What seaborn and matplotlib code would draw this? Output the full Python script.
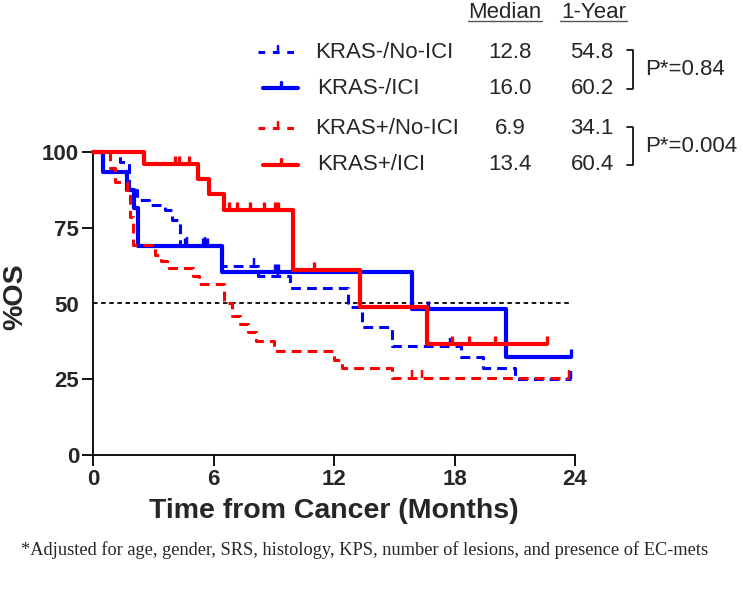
import matplotlib
matplotlib.use("Agg")
import matplotlib.pyplot as plt
from matplotlib.lines import Line2D
import numpy as np
import pandas as pd
import seaborn as sns

# Kaplan-Meier steps (months, % OS)
GROUPS = ["KRAS-/No-ICI", "KRAS-/ICI", "KRAS+/No-ICI", "KRAS+/ICI"]

NEG_NOICI_T = [0, 1.35, 1.8, 2.2, 2.8, 3.6, 3.95, 4.35, 6.4, 8.2, 9.8, 12.7, 13.4, 14.9, 18.3, 19.4, 21.0]
NEG_NOICI_S = [100, 96.8, 87.5, 84.2, 82.5, 80.7, 77.6, 69.2, 62.5, 59.0, 55.0, 49.0, 42.3, 36.0, 32.3, 28.8, 25.2]
NEG_NOICI_END = 23.8
NEG_NOICI_CENS = [4.7, 5.6, 8.0, 9.2, 17.8, 23.8]

NEG_ICI_T = [0, 0.5, 1.7, 2.05, 2.25, 6.4, 15.9, 20.55]
NEG_ICI_S = [100, 93.5, 87.5, 81.6, 68.9, 60.3, 48.2, 32.3]
NEG_ICI_END = 23.8
NEG_ICI_CENS = [4.6, 5.5, 5.7, 9.05, 9.2, 16.7, 23.8]

POS_NOICI_T = [0, 0.85, 1.1, 1.7, 1.85, 2.0, 3.1, 3.4, 3.7, 5.0, 5.3, 6.5, 6.9, 7.3, 7.7, 8.1, 9.0, 12.0, 12.4, 14.9]
POS_NOICI_S = [100, 94.7, 90.0, 86.0, 78.7, 69.4, 66.1, 63.9, 61.7, 59.0, 56.3, 50.0, 46.0, 43.1, 40.5, 37.5, 34.3, 31.5, 28.6, 25.3]
POS_NOICI_END = 23.7
POS_NOICI_CENS = [15.9, 16.4, 23.7]

POS_ICI_T = [0, 2.55, 5.25, 5.8, 6.5, 9.97, 13.3, 16.65]
POS_ICI_S = [100, 96, 91, 86.2, 80.9, 60.9, 48.7, 36.5]
POS_ICI_END = 22.6
POS_ICI_CENS = [4.1, 4.3, 4.8, 6.75, 7.15, 7.8, 8.5, 9.05, 9.2, 11.0, 17.9, 18.7, 20.0, 22.6]

MEDIANS = ["12.8", "16.0", "6.9", "13.4"]
ONE_YEAR = ["54.8", "60.2", "34.1", "60.4"]
P_VALUES = ["P*=0.84", "P*=0.004"]

X_TICKS = [0, 6, 12, 18, 24]
Y_TICKS = [0, 25, 50, 75, 100]

BLUE = "#0000ff"
RED = "#ff0000"
COLORS = [BLUE, BLUE, RED, RED]
DASHED = [True, False, True, False]

SERIES = [
    (NEG_NOICI_T, NEG_NOICI_S, NEG_NOICI_END, NEG_NOICI_CENS),
    (NEG_ICI_T, NEG_ICI_S, NEG_ICI_END, NEG_ICI_CENS),
    (POS_NOICI_T, POS_NOICI_S, POS_NOICI_END, POS_NOICI_CENS),
    (POS_ICI_T, POS_ICI_S, POS_ICI_END, POS_ICI_CENS),
]

W, H = 743, 590


def fx(px):
    return px / W


def fy(py):
    return 1 - py / H


def step_value(times, surv, t):
    idx = np.searchsorted(times, t, side="right") - 1
    return surv[idx]


def main() -> None:
    sns.set_style("ticks")
    plt.rcParams["font.family"] = ["Liberation Sans", "DejaVu Sans"]

    fig = plt.figure(figsize=(W / 100, H / 100), dpi=100)
    ax = fig.add_axes([fx(93), fy(455), fx(575) - fx(93), fy(152) - fy(455)])

    # reference line at 50 %
    ax.plot([0, 23.8], [50, 50], color="black", lw=1.3, ls=(0, (2.5, 2)), zorder=1)

    dash = (0, (3.2, 2.0))
    for i, (t, s, end, cens) in enumerate(SERIES):
        df = pd.DataFrame({"t": list(t) + [end], "s": list(s) + [s[-1]]})
        lw = 2.2 if DASHED[i] else 3.0
        sns.lineplot(
            data=df, x="t", y="s", ax=ax, estimator=None, sort=False,
            drawstyle="steps-post", color=COLORS[i], lw=lw,
            linestyle=dash if DASHED[i] else "-", zorder=2 + i,
        )
        cy = [step_value(np.array(t), np.array(s), c) for c in cens]
        ax.plot(cens, cy, ls="none", marker=2, ms=6, mew=lw * 0.8,
                color=COLORS[i], zorder=2 + i, clip_on=False)

    for line in ax.lines:
        line.set_clip_on(False)

    ax.set_xlim(0, 24)
    ax.set_ylim(0, 100)
    ax.set_xticks(X_TICKS)
    ax.set_yticks(Y_TICKS)
    ax.tick_params(axis="both", length=8, width=1.3, labelsize=16, color="black", pad=2)
    for lab in ax.get_xticklabels() + ax.get_yticklabels():
        lab.set_fontweight("bold")
    # the 50 tick is hidden in the original
    ax.yaxis.get_major_ticks()[2].tick1line.set_visible(False)
    for sp in ["left", "bottom"]:
        ax.spines[sp].set_linewidth(1.3)
        ax.spines[sp].set_color("black")
    sns.despine(ax=ax)
    ax.set_xlabel("Time from Cancer (Months)", fontsize=20.5, fontweight="bold", labelpad=6)
    ax.set_ylabel("")
    fig.text(fx(15), fy(297), "%OS", rotation=90, fontsize=20.5, fontweight="bold",
             ha="center", va="center")

    # legend-table at the top
    fs = 16
    fig.text(fx(505), fy(12), "Median", fontsize=fs, ha="center", va="center")
    fig.text(fx(594), fy(12), "1-Year", fontsize=fs, ha="center", va="center")
    for x0, x1 in [(468, 542), (560, 627)]:
        fig.add_artist(Line2D([fx(x0), fx(x1)], [fy(21), fy(21)], color="#555555", lw=1))

    rows_y = [52, 88, 128, 165]
    for i, g in enumerate(GROUPS):
        y = rows_y[i]
        lw = 2.2 if DASHED[i] else 3.0
        xs = [fx(258), fx(297)] if DASHED[i] else [fx(263), fx(298)]
        fig.add_artist(Line2D(xs, [fy(y), fy(y)], color=COLORS[i], lw=lw,
                              ls=(0, (2.2, 2.5)) if DASHED[i] else "-"))
        mid = (xs[0] + xs[1]) / 2
        fig.add_artist(Line2D([mid, mid], [fy(y), fy(y - 6)], color=COLORS[i], lw=lw * 0.8))
        lx = 315 if DASHED[i] else 317
        fig.text(fx(lx), fy(y), g, fontsize=fs, ha="left", va="center")
        fig.text(fx(510), fy(y), MEDIANS[i], fontsize=fs, ha="center", va="center")
        fig.text(fx(592), fy(y), ONE_YEAR[i], fontsize=fs, ha="center", va="center")

    for (ya, yb), p in zip([(50, 89), (127, 165)], P_VALUES):
        fig.add_artist(Line2D([fx(627), fx(633), fx(633), fx(627)],
                              [fy(ya), fy(ya), fy(yb), fy(yb)], color="black", lw=1.2))
        fig.text(fx(645), fy((ya + yb) / 2), p, fontsize=fs, ha="left", va="center")

    fig.text(fx(365), fy(550),
             "*Adjusted for age, gender, SRS, histology, KPS, number of lesions, and presence of EC-mets",
             fontsize=13.2, ha="center", va="center", family=["Liberation Serif", "DejaVu Serif"])

    fig.savefig("out.png", dpi=100)


if __name__ == "__main__":
    main()
